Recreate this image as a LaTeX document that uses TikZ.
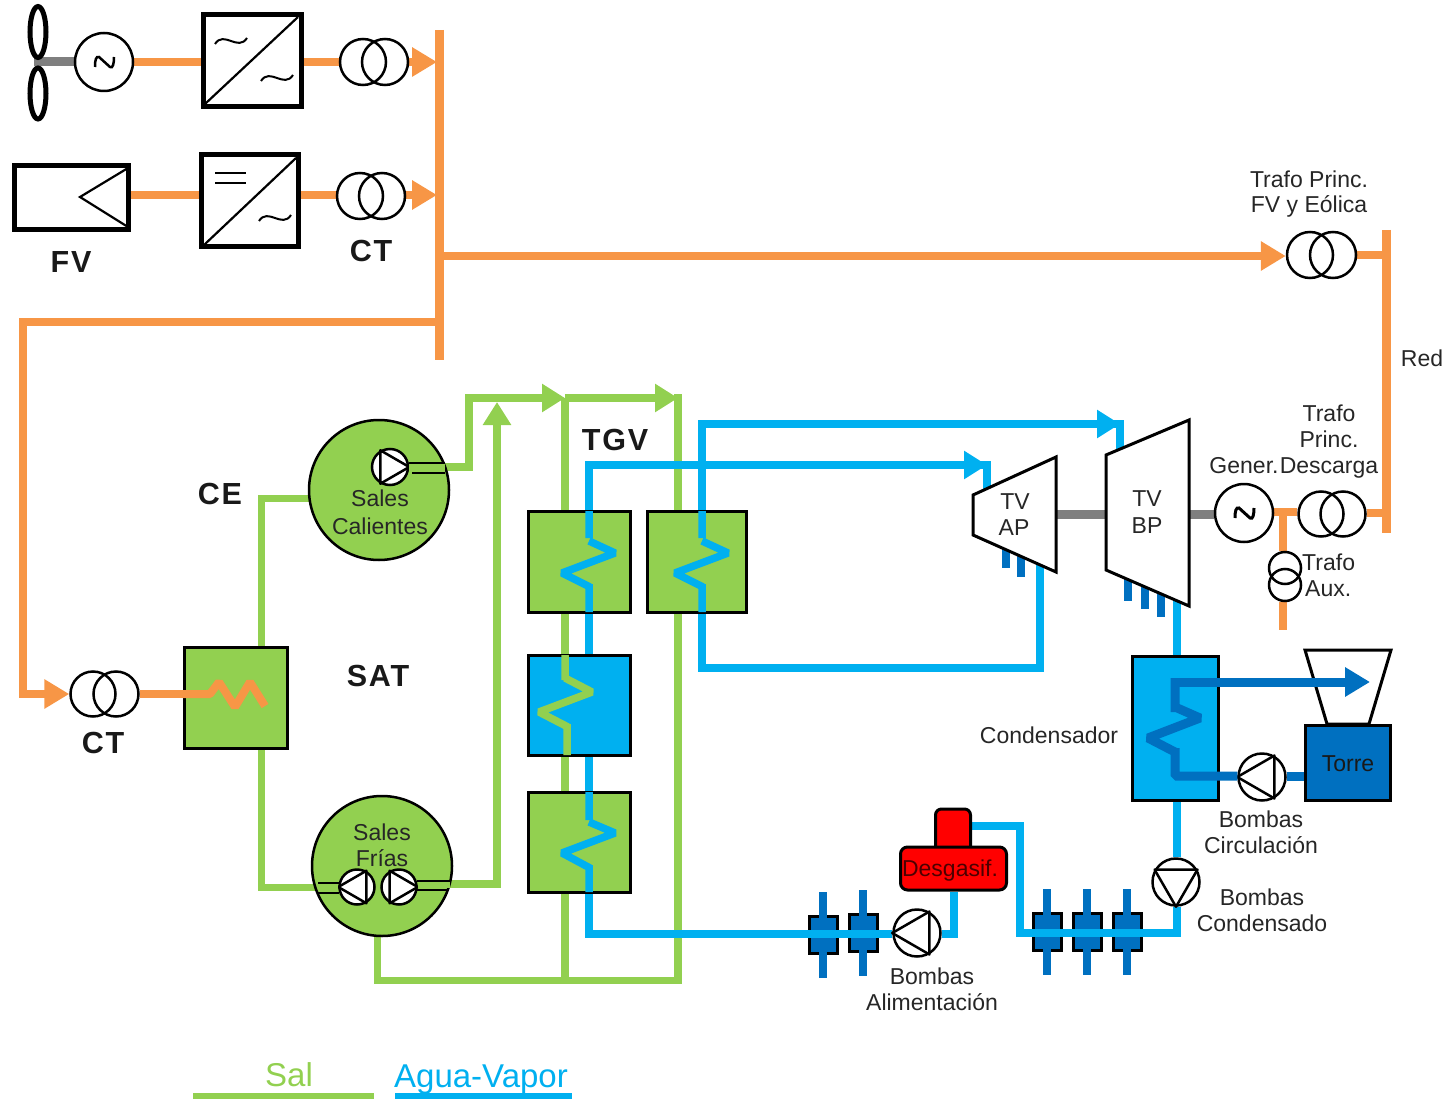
\documentclass[tikz,border=0pt]{standalone}
\usepackage{fontspec}
\setmainfont{Liberation Sans}
\newfontfamily\spacedfont[LetterSpace=6]{Liberation Sans}
\usetikzlibrary{arrows.meta,calc,shapes.geometric}
\pgfdeclarelayer{pipes}
\pgfdeclarelayer{top}
\pgfsetlayers{pipes,main,top}
\definecolor{orangeE}{HTML}{F79646}
\definecolor{greenS}{HTML}{92D050}
\definecolor{blueV}{HTML}{00B0F0}
\definecolor{blueD}{HTML}{0070C0}
\definecolor{grayS}{HTML}{7F7F7F}
\definecolor{redD}{HTML}{FF0000}
\tikzset{
  lbl/.style={font=\fontsize{23}{23}\selectfont,text=black!85,inner sep=0pt,align=center},
  bold/.style={font=\spacedfont\fontsize{30.5}{30.5}\selectfont\bfseries,text=black!90,inner sep=0pt},
  legend/.style={font=\fontsize{33}{33}\selectfont,inner sep=0pt},
  conv/.style={draw=black,line width=5pt,fill=white,rectangle,inner sep=0pt},
  hx/.style={draw=black,line width=3pt,rectangle,inner sep=0pt},
  hxgreen/.style={hx,fill=greenS},
  hxblue/.style={hx,fill=blueV},
  tank/.style={circle,draw=black,line width=2.5pt,fill=greenS,inner sep=0pt,minimum size=140pt},
  circ/.style={circle,draw=black,line width=2.5pt,inner sep=0pt},
  gener/.style={circ,minimum size=58pt},
  pumpc/.style={circ,fill=white},
  pumpt/.style={draw=black,line width=2.5pt,line join=round},
  elec/.style={draw=orangeE,line width=8pt},
  salt/.style={draw=greenS,line width=8pt},
  steam/.style={draw=blueV,line width=8pt},
  cool/.style={draw=blueD,line width=9pt},
  shaft/.style={draw=grayS,line width=9pt},
  coilb/.style={draw=blueV,line width=7.5pt,line join=bevel},
  tipE/.style={-{Triangle[length=25pt,width=28pt]}},
  tipS/.style={-{Triangle[length=23pt,width=27pt]}},
  tild/.style={draw=black,line width=2pt},
  valvebox/.style={rectangle,draw=black,line width=3pt,fill=blueD,inner sep=0pt,minimum width=28pt,minimum height=37pt},
  stem/.style={draw=blueD,line width=8.5pt},
  turb/.style={draw=black,line width=3pt,fill=white,line join=miter},
  blade/.style={ellipse,draw=black,line width=5pt,minimum width=16pt,minimum height=51pt,inner sep=0pt},
  pline/.style={line width=2pt},
}
\newcommand{\trafo}[5]{% name, x1, x2, y, diameter
  \node[circ,minimum size=#5pt] (#1a) at (#2,#4) {};
  \node[circ,minimum size=#5pt] (#1b) at (#3,#4) {};}
\newcommand{\pumpsym}[5]{% name,x,y,diameter,angle
  \node[pumpc,minimum size=#4pt] (#1) at (#2,#3) {};
  \pgfmathtruncatemacro{\pangA}{#5+120}%
  \pgfmathtruncatemacro{\pangB}{#5+240}%
  \draw[pumpt] (#1.#5) -- (#1.\pangA) -- (#1.\pangB) -- cycle;}
\newcommand{\tilda}[2]{%
  \draw[tild] ({#1-16},{#2+3}) .. controls ({#1-7},{#2-11}) and ({#1+7},{#2+11}) .. ({#1+16},{#2-3});}
\newcommand{\valve}[3]{% name,x,y
  \begin{pgfonlayer}{pipes}
  \node[valvebox] (#1) at (#2,#3) {};
  \draw[stem] (#2,{#3-43}) -- (#2,{#3+43});
  \end{pgfonlayer}}
\begin{document}
\begin{tikzpicture}[x=1pt,y=-1pt]
\useasboundingbox (0,0) rectangle (1450,1099);

% ---- junctions and free ends
\coordinate (busTop) at (439,30);
\coordinate (busBot) at (439,360);
\coordinate (busIn1) at (437,62);
\coordinate (busIn2) at (437,195);
\coordinate (busOut) at (444,256);
\coordinate (busLoop) at (435,322);
\coordinate (loopA) at (23,322);
\coordinate (loopB) at (23,694);
\coordinate (redTop) at (1386,230);
\coordinate (redBot) at (1386,533);
\coordinate (redIn1) at (1382,255);
\coordinate (redIn2) at (1382,513);
\coordinate (fanHub) at (34,62);
\coordinate (inY1) at (0,62);
\coordinate (inY2) at (0,195);

% ---- wind and PV lines
\node[blade] (bl1) at (38,32) {};
\node[blade] (bl2) at (38,93.5) {};
\node[gener] (gen1) at (104,62) {};
\draw[tild,line width=2.5pt] (95,67) .. controls (95,60) and (96,56) .. (99,57) -- (110,67) .. controls (113,69) and (114,63) .. (114,57);
\node[conv,minimum width=98pt,minimum height=92pt] (inv1) at (252,60.5) {};
\draw[line width=2.2pt] (205,104) -- (298,17);
\tilda{231}{41}\tilda{277}{78}
\trafo{t1}{363}{385}{62}{46}

\node[conv,minimum width=114pt,minimum height=64pt] (pv) at (71.5,198) {};
\draw[line width=2.2pt,line join=miter] (128,168) -- (80,197) -- (128,227);
\node[conv,minimum width=97pt,minimum height=92pt] (inv2) at (250,201) {};
\draw[line width=2.2pt] (204,245) -- (296,158);
\draw[tild] (215,173) -- (246,173) (215,183) -- (246,183);
\tilda{275}{218}
\trafo{t2}{360}{382}{196}{46}

\node[bold] at (71,262) {FV};
\node[bold] at (371,251) {CT};

% ---- grid side
\trafo{t3}{1310}{1333}{255}{46}
\node[lbl] at (1309,179) {Trafo Princ.};
\node[lbl] at (1309,206) {FV y Eólica};
\node[lbl] at (1422,358) {Red};
\trafo{t4}{93}{116}{694}{45}
\node[bold] at (103,743) {CT};

% ---- CE, SAT
\node[hxgreen,minimum width=103pt,minimum height=101pt] (ce) at (235.5,697.5) {};
\node[tank] (hot) at (379,490) {};
\node[tank] (cold) at (382,866) {};
\node[bold] at (220,494) {CE};
\node[bold] at (378,676) {SAT};
\node[bold] at (615,440) {TGV};

% ---- TGV exchangers
\node[hxgreen,minimum width=102pt,minimum height=101pt] (ex1) at (579,561.5) {};
\node[hxgreen,minimum width=99pt,minimum height=101pt] (ex2) at (696.5,561.5) {};
\node[hxblue,minimum width=102pt,minimum height=100pt] (ex3) at (579,705) {};
\node[hxgreen,minimum width=102pt,minimum height=100pt] (ex4) at (579,842) {};

% ---- turbine train
\draw[turb] (973,495) -- (1056,457) -- (1056,572) -- (973,535) -- cycle;
\coordinate (apIn) at (987,490);
\coordinate (apOut) at (1040,565);
\coordinate (apE) at (1056,514);
\draw[turb] (1106,455) -- (1189,420) -- (1189,606) -- (1106,570) -- cycle;
\coordinate (bpIn) at (1120,450);
\coordinate (bpOut) at (1177,600);
\coordinate (bpW) at (1106,514);
\coordinate (bpE) at (1189,514);
\node[lbl] at (1015,502) {TV};
\node[lbl] at (1014,528) {AP};
\node[lbl] at (1147,499) {TV};
\node[lbl] at (1147,526) {BP};
\node[gener] (gen2) at (1244,513) {};
\draw[tild,line width=3pt] (1235,518) .. controls (1235,511) and (1236,507) .. (1239,508) -- (1250,518) .. controls (1253,520) and (1254,514) .. (1254,508);
\trafo{t5}{1321}{1343}{514}{45}
\node[circ,minimum size=32pt] (aux1) at (1285,568) {};
\node[circ,minimum size=32pt] (aux2) at (1285,585) {};
\coordinate (genJ) at (1283,512);
\coordinate (auxEnd) at (1283,630);
\node[lbl] at (1329,413) {Trafo};
\node[lbl] at (1329,439) {Princ.};
\node[lbl] at (1244,466) {Gener.};
\node[lbl] at (1329,468) {Descarga};
\node[lbl,anchor=west] at (1302,562) {Trafo};
\node[lbl,anchor=west] at (1305,589) {Aux.};

% ---- condenser and tower
\node[hxblue,minimum width=86pt,minimum height=144pt] (cond) at (1175,728) {};
\draw[turb] (1305,650) -- (1391,650) -- (1369,724) -- (1327,724) -- cycle;
\node[hx,fill=blueD,minimum width=85pt,minimum height=75pt] (torre) at (1347.5,762.5) {};
\node[lbl,text=black!90] at (1348,764) {Torre};
\coordinate (towerTip) at (1370,682);
\coordinate (coolIn) at (1175,682);
\coordinate (coolOut) at (1175,776);
\node[lbl] at (1049,735) {Condensador};
\pumpsym{pcir}{1262}{777}{47}{180}
\node[lbl] at (1261,819) {Bombas};
\node[lbl] at (1261,845) {Circulación};
\pumpsym{pcon}{1176}{882}{47}{270}
\node[lbl] at (1262,897) {Bombas};
\node[lbl] at (1262,923) {Condensado};

% ---- feed water train
\node[draw=black,line width=3pt,fill=redD,rounded corners=6pt,minimum width=35pt,minimum height=46pt,inner sep=0pt] (dgtop) at (953,832) {};
\node[draw=black,line width=3pt,fill=redD,rounded corners=7pt,minimum width=106pt,minimum height=43pt,inner sep=0pt] (dg) at (953.5,868.5) {};
\node[lbl,text=black!70!red] (dgname) at (950,871) {Desgasif.};
\pumpsym{pali}{917}{933}{47}{180}
\node[lbl] at (932,976) {Bombas};
\node[lbl] at (932,1002) {Alimentación};
\valve{v1}{823}{935}
\valve{v2}{863}{933}
\valve{v3}{1047}{932}
\valve{v4}{1087}{932}
\valve{v5}{1127}{932}

% ---- salt pumps
\pumpsym{phot}{390}{467}{36}{0}
\node[lbl] at (380,498) {Sales};
\node[lbl] at (380,526) {Calientes};
\pumpsym{pcl}{357}{887}{35}{180}
\pumpsym{pcr}{399}{887}{35}{0}
\node[lbl] at (382,832) {Sales};
\node[lbl] at (382,858) {Frías};
\coordinate (hotOut) at (445,467);
\coordinate (coldOut) at (450,884);
\coordinate (coldIn) at (318,887);

% ---- legend
\node[legend,text=greenS] (lsal) at (289,1075) {Sal};
\node[legend,text=blueV] (lagua) at (481,1080) {Agua-Vapor};
\coordinate (ls1) at (193,1096);
\coordinate (ls2) at (374,1096);
\coordinate (la1) at (395,1096);
\coordinate (la2) at (572,1096);

\begin{pgfonlayer}{pipes}
  % ---- salt
  \coordinate (s1) at (469,467);
  \coordinate (s2) at (469,398);
  \coordinate (s3) at (565,398);
  \coordinate (s4) at (678,398);
  \coordinate (s5) at (497,884);
  \coordinate (s6) at (497,402);
  \coordinate (s7) at (377,980);
  \coordinate (s8) at (565,980);
  \coordinate (s9) at (678,980);
  \coordinate (hotW) at (310,498);
  \coordinate (hotK) at (261,498);
  \coordinate (coldK) at (261,887);
  \draw[salt,line join=miter,tipS] (hotOut) -- (s1) -- (s2) -- (s3);
  \draw[salt,tipS] (s3) -- (s4);
  \draw[salt] (s3) -- (s8);
  \draw[salt,line cap=rect] (s4) -- (s9);
  \draw[salt,line width=7pt,line join=miter] (cold.south -| s7) -- (s7) -- (s9);
  \draw[salt,line join=miter,tipS] (coldOut) -- (s5) -- (s6);
  \draw[salt,line width=7pt,line join=miter] (hotW) -- (hotK) -- (ce.north -| hotK);
  \draw[salt,line width=7pt,line join=miter] (ce.south -| coldK) -- (coldK) -- (coldIn);
  % ---- electricity
  \draw[shaft] (fanHub) -- (gen1.west);
  \draw[elec] (gen1.east) -- (inv1.west |- inY1);
  \draw[elec] (inv1.east |- inY1) -- (t1a.west);
  \draw[elec,tipE] (t1b.east) -- (busIn1);
  \draw[elec] (pv.east |- inY2) -- (inv2.west |- inY2);
  \draw[elec] (inv2.east |- inY2) -- (t2a.west |- inY2);
  \draw[elec,tipE] (t2b.east |- inY2) -- (busIn2);
  \draw[elec,tipE] (busOut) -- (t3a.west |- busOut);
  \draw[elec] (t3b.east) -- (redIn1);
  \draw[elec,line width=9pt] (busTop) -- (busBot);
  \draw[elec,line width=9pt] (redTop) -- (redBot);
  \draw[elec,line join=miter,tipE] (busLoop) -- (loopA) -- (loopB) -- (t4a.west);
  \draw[elec] (t4b.east) -- (ce.west |- t4b.east);
  \draw[shaft] (apE) -- (bpW);
  \draw[shaft] (bpE) -- (gen2.west |- bpE);
  \draw[elec] (gen2.east |- genJ) -- (t5a.west |- genJ);
  \draw[elec] (genJ) -- (aux1.north -| genJ);
  \draw[elec] (aux2.south -| genJ) -- (auxEnd);
  \draw[elec] (t5b.east |- redIn2) -- (redIn2);
  % ---- steam and water
  \coordinate (w1) at (589,465);
  \coordinate (w2) at (987,465);
  \coordinate (w3) at (702,424);
  \coordinate (w4) at (1120,424);
  \coordinate (w5) at (589,934);
  \coordinate (w6) at (702,668);
  \coordinate (w7) at (1040,668);
  \coordinate (w8) at (954,934);
  \coordinate (w9) at (971,826);
  \coordinate (w10) at (1020,826);
  \coordinate (w11) at (1020,933);
  \coordinate (w12) at (1177,933);
  \coordinate (w13) at (987,461);
  \coordinate (w14) at (1120,420);
  \draw[steam,line join=miter] (ex1.north -| w1) -- (w1) -- (w2);
  \draw[steam,tipS] (w1) -- (w2);
  \draw[steam] (w13) -- (apIn);
  \draw[steam,line join=miter] (ex2.north -| w3) -- (w3) -- (w4);
  \draw[steam,tipS] (w3) -- (w4);
  \draw[steam] (w14) -- (bpIn);
  \draw[steam,line join=miter] (ex2.south -| w6) -- (w6) -- (w7) -- (apOut);
  \draw[steam] (ex1.south -| w1) -- (ex3.north -| w1);
  \draw[steam] (ex3.south -| w1) -- (ex4.north -| w1);
  \draw[steam,line join=miter] (ex4.south -| w5) -- (w5) -- (pali.west |- w5);
  \draw[steam,line join=miter] (pali.east |- w8) -- (w8) -- (dg.south -| w8);
  \draw[steam,line join=miter] (w9) -- (w10) -- (w11) -- (w12) -- (pcon.south -| w12);
  \draw[steam] (pcon.north -| w12) -- (cond.south -| w12);
  \draw[steam] (bpOut) -- (cond.north -| bpOut);
  % ---- extractions
  \draw[cool,line width=8pt] (1006,545) -- (1006,568);
  \draw[cool,line width=8pt] (1021,550) -- (1021,577);
  \draw[cool,line width=8pt] (1128,575) -- (1128,601);
  \draw[cool,line width=8pt] (1145,582) -- (1145,609);
  \draw[cool,line width=8pt] (1161,590) -- (1161,617);
  % ---- legend rules
  \draw[salt,line width=6pt] (ls1) -- (ls2);
  \draw[steam,line width=6pt] (la1) -- (la2);
\end{pgfonlayer}

\begin{pgfonlayer}{top}
  % orange coil in CE
  \draw[elec,line join=bevel] (ce.west |- 0,694) -- (210,694) -- (219,682) -- (235,707) -- (250,682) -- (265,706);
  % coils in the exchangers
  \draw[coilb] (589,511) -- (589,538) (589,541) -- (615,553) -- (562,573) -- (590,587) (589,584) -- (589,612);
  \draw[coilb] (702,511) -- (702,538) (702,541) -- (728,553) -- (675,573) -- (703,587) (702,584) -- (702,612);
  \draw[coilb] (589,792) -- (589,820) (589,822) -- (615,833) -- (562,853) -- (590,868) (589,865) -- (589,892);
  \draw[coilb,draw=greenS] (565,655) -- (565,680) (565,678) -- (592,692) -- (539,712) -- (568,727) (567,724) -- (567,755);
  % condenser coil
  \draw[cool,line cap=butt,line join=bevel] (1175,678) -- (1175,712) (1175,707) -- (1200,718) -- (1148,738) -- (1175,752) (1175,748) -- (1175,776) -- (pcir.west |- coolOut);
  \draw[cool,tipE] (coolIn) -- (towerTip);
  \draw[cool] (pcir.east |- coolOut) -- (torre.west |- coolOut);
  % green stubs inside the tanks
  \draw[salt] (phot.east |- hotOut) -- (hotOut);
  \draw[salt] (pcr.east |- coldOut) -- (coldOut);
  \draw[salt,line width=7pt] (pcl.west |- coldIn) -- (coldIn);
  % pump discharge lines in the tanks
  \draw[pline] (409,463) -- (445,463);
  \draw[pline] (412,473) -- (445,473);
  \draw[pline] (417,881) -- (450,881);
  \draw[pline] (416,890) -- (448,890);
  \draw[pline] (318,883) -- (341,883);
  \draw[pline] (317,893) -- (339,893);
\end{pgfonlayer}
\end{tikzpicture}
\end{document}
